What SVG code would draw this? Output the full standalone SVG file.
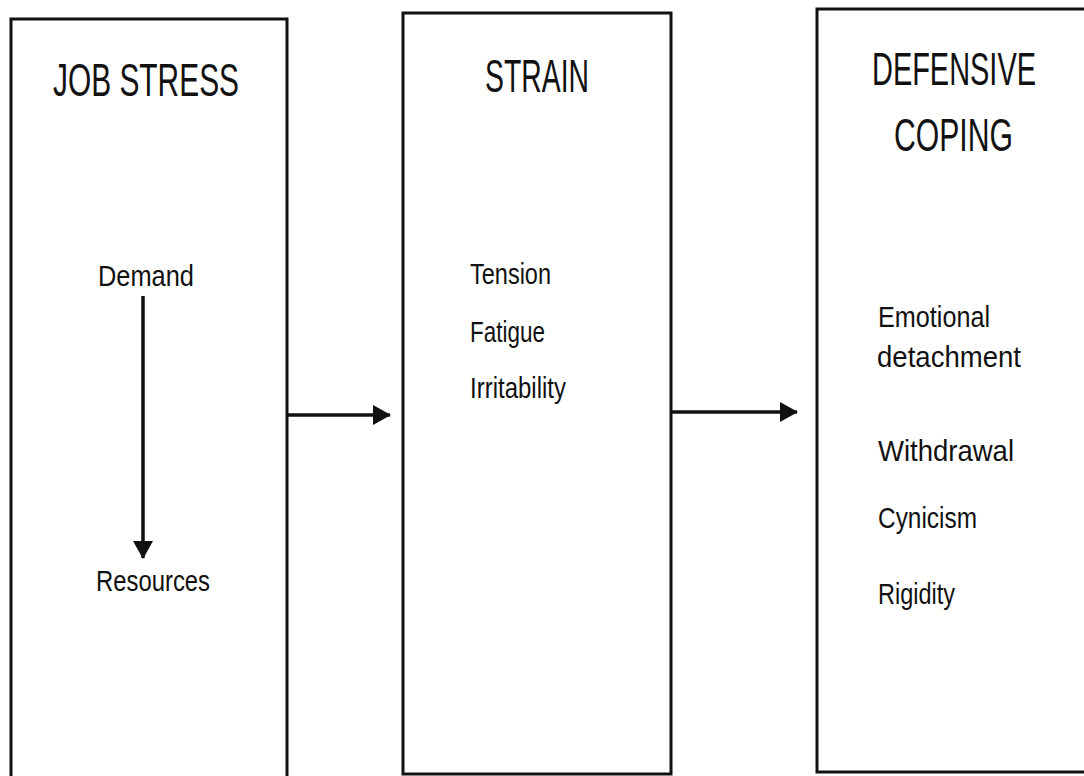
<svg xmlns="http://www.w3.org/2000/svg" width="1084" height="776" viewBox="0 0 1084 776">
<style>
.box{fill:none;stroke:#111;stroke-width:3}
.h{font-family:"Liberation Sans",Arial,sans-serif;font-size:46px;fill:#111}
.t{font-family:"Liberation Sans",Arial,sans-serif;font-size:30px;fill:#111}
.ln{stroke:#111;stroke-width:3.5;fill:none}
</style>
<defs>
<marker id="ah" markerWidth="18" markerHeight="20" refX="17" refY="10" orient="auto" markerUnits="userSpaceOnUse">
<path d="M0,0 L18,10 L0,20 Z" fill="#111"/>
</marker>
</defs>
<rect width="1084" height="776" fill="#fff"/>
<g id="job-stress">
<path class="box" d="M11,776 V19 H287 V776"/>
<text class="h" x="53" y="96" textLength="186" lengthAdjust="spacingAndGlyphs">JOB STRESS</text>
<text class="t" x="98" y="286" textLength="96" lengthAdjust="spacingAndGlyphs">Demand</text>
<text class="t" x="96" y="591" textLength="114" lengthAdjust="spacingAndGlyphs">Resources</text>
</g>
<g id="strain">
<rect class="box" x="403" y="13" width="268" height="761"/>
<text class="h" x="485" y="92" textLength="104" lengthAdjust="spacingAndGlyphs">STRAIN</text>
<text class="t" x="470" y="284" textLength="81" lengthAdjust="spacingAndGlyphs">Tension</text>
<text class="t" x="470" y="342" textLength="75" lengthAdjust="spacingAndGlyphs">Fatigue</text>
<text class="t" x="470" y="398" textLength="96" lengthAdjust="spacingAndGlyphs">Irritability</text>
</g>
<g id="defensive-coping">
<path class="box" d="M1084,9 H817 V772 H1084"/>
<text class="h" transform="translate(872,85) scale(1,1.586)" x="0" y="0" style="font-size:29px" textLength="164" lengthAdjust="spacingAndGlyphs">DEFENSIVE</text>
<text class="h" x="894" y="151" textLength="119" lengthAdjust="spacingAndGlyphs">COPING</text>
<text class="t" x="878" y="327" textLength="112" lengthAdjust="spacingAndGlyphs">Emotional</text>
<text class="t" x="877" y="367" textLength="144" lengthAdjust="spacingAndGlyphs">detachment</text>
<text class="t" x="878" y="461" textLength="136" lengthAdjust="spacingAndGlyphs">Withdrawal</text>
<text class="t" x="878" y="528" textLength="99" lengthAdjust="spacingAndGlyphs">Cynicism</text>
<text class="t" x="878" y="604" textLength="77" lengthAdjust="spacingAndGlyphs">Rigidity</text>
</g>
<g id="connectors">
<line class="ln" x1="143" y1="296" x2="143" y2="558" marker-end="url(#ah)"/>
<line class="ln" x1="287" y1="415" x2="390" y2="415" marker-end="url(#ah)"/>
<line class="ln" x1="671" y1="412" x2="797" y2="412" marker-end="url(#ah)"/>
</g>
</svg>
